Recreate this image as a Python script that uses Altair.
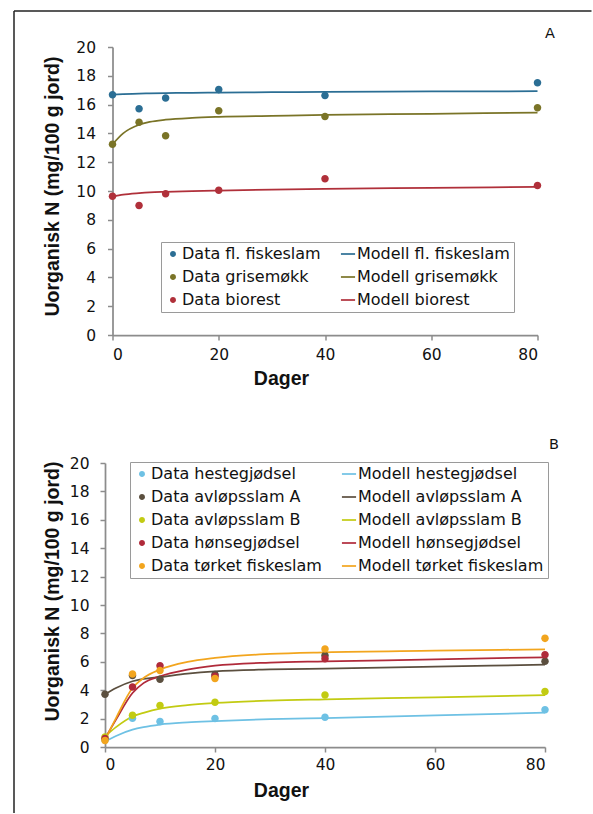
import altair as alt
import pandas as pd

# ---------------- data ----------------
days = [0, 5, 10, 20, 40, 80]
model_days = [0, 2, 5, 7, 10, 15, 20, 30, 40, 60, 80]

# Panel A
a_names = ["fl. fiskeslam", "grisemøkk", "biorest"]
a_colors = ["#2b6e94", "#7a7427", "#b0303a"]
a_fisk_data = [16.69, 15.72, 16.46, 17.04, 16.64, 17.52]
a_gris_data = [13.24, 14.77, 13.84, 15.58, 15.18, 15.78]
a_bio_data = [9.63, 9.0, 9.81, 10.05, 10.85, 10.39]
a_fisk_model = [16.70, 16.73, 16.76, 16.78, 16.80, 16.82, 16.83, 16.86, 16.88, 16.91, 16.93]
a_gris_model = [13.24, 14.00, 14.60, 14.80, 14.95, 15.08, 15.15, 15.22, 15.28, 15.36, 15.44]
a_bio_model = [9.63, 9.75, 9.85, 9.90, 9.94, 9.99, 10.03, 10.10, 10.15, 10.22, 10.28]

# Panel B
b_names = ["hestegjødsel", "avløpsslam A", "avløpsslam B", "hønsegjødsel", "tørket fiskeslam"]
b_colors = ["#6ec1e4", "#5b4f3f", "#c2cb12", "#b02a3a", "#f2a51e"]
b_heste_data = [0.50, 2.02, 1.79, 2.00, 2.09, 2.63]
b_avla_data = [3.71, 5.03, 4.77, 5.10, 6.44, 6.04]
b_avlb_data = [0.70, 2.23, 2.92, 3.15, 3.66, 3.90]
b_honse_data = [0.59, 4.23, 5.73, 4.98, 6.22, 6.50]
b_tork_data = [0.45, 5.14, 5.38, 4.82, 6.90, 7.65]
b_heste_model = [0.38, 0.78, 1.22, 1.40, 1.58, 1.73, 1.82, 1.96, 2.04, 2.22, 2.42]
b_avla_model = [3.71, 4.15, 4.63, 4.80, 4.93, 5.17, 5.33, 5.46, 5.52, 5.66, 5.80]
b_avlb_model = [0.75, 1.40, 2.15, 2.40, 2.70, 2.95, 3.10, 3.27, 3.36, 3.50, 3.66]
b_honse_model = [0.60, 1.93, 3.80, 4.50, 4.98, 5.45, 5.73, 5.95, 6.03, 6.17, 6.32]
b_tork_model = [0.50, 2.04, 4.15, 4.86, 5.45, 5.99, 6.27, 6.55, 6.67, 6.78, 6.88]

x_ticks = [0, 20, 40, 60, 80]
y_ticks = [0, 2, 4, 6, 8, 10, 12, 14, 16, 18, 20]
y_title = "Uorganisk N (mg/100 g jord)"
x_title = "Dager"

CIRCLE = "M0,-0.42A0.42,0.42,0,1,1,0,0.42A0.42,0.42,0,1,1,0,-0.42Z"
DASH = "M-1,-0.12L1,-0.12L1,0.12L-1,0.12Z"

LABEL_FONT = "DejaVu Sans"
TITLE_FONT = "Liberation Sans"


def panel(tag, names, colors, data_lists, model_lists, width, height, leg_x, leg_y,
          letter, letter_x, letter_y, ytx, yty, xtx, xty, ylp, xlp, frame=None):
    prow, lrow = [], []
    for n, vals in zip(names, data_lists):
        for d, v in zip(days, vals):
            prow.append({"day": d, "value": v, "series" + tag: "Data " + n})
    for n, vals in zip(names, model_lists):
        for d, v in zip(model_days, vals):
            lrow.append({"day": d, "value": v, "model" + tag: "Modell " + n})
    pts = pd.DataFrame(prow)
    lns = pd.DataFrame(lrow)

    # legend entries: first column = data, second column = models
    domain = ["Data " + n for n in names] + ["Modell " + n for n in names]
    crange = list(colors) + list(colors)
    shapes = [CIRCLE] * len(names) + [DASH] * len(names)

    leg = alt.Legend(orient="none", legendX=leg_x, legendY=leg_y, columns=2, title=None,
                     labelFont=LABEL_FONT, labelFontSize=16, labelColor="#111",
                     labelLimit=400, symbolSize=200, labelOffset=1,
                     rowPadding=7, columnPadding=16, padding=4,
                     strokeColor="#9a9a9a", fillColor="white")

    x = alt.X("day:Q", scale=alt.Scale(domain=[0, 80], nice=False),
              axis=alt.Axis(values=x_ticks, title=x_title, titleX=xtx, titleY=xty,
                            titleBaseline="alphabetic", titleAlign="center",
                            labelPadding=xlp))
    y = alt.Y("value:Q", scale=alt.Scale(domain=[0, 20], nice=False),
              axis=alt.Axis(values=y_ticks, title=y_title, titleX=ytx, titleY=yty,
                            titleAngle=270, titleBaseline="alphabetic", titleAlign="center",
                            labelPadding=ylp))

    lines = alt.Chart(lns).mark_line(interpolate="monotone", strokeWidth=1.75).encode(
        x=x, y=y,
        color=alt.Color("model" + tag + ":N",
                        scale=alt.Scale(domain=["Modell " + n for n in names], range=colors),
                        legend=None),
    )
    points = alt.Chart(pts).mark_point(filled=True, opacity=1, size=320).encode(
        x=x, y=y,
        fill=alt.Fill("series" + tag + ":N", scale=alt.Scale(domain=domain, range=crange), legend=leg),
        shape=alt.Shape("series" + tag + ":N", scale=alt.Scale(domain=domain, range=shapes), legend=leg),
    )
    one = pd.DataFrame({"k": [0]})
    letter_mark = alt.Chart(one).mark_text(text=letter, font=LABEL_FONT, fontSize=14.5,
                                           align="center", baseline="alphabetic",
                                           color="#111").encode(
        x=alt.value(letter_x), y=alt.value(letter_y))
    layers = [lines, points, letter_mark]
    if frame is not None:
        fx, fy, fx2, fy2 = frame
        left = alt.Chart(one).mark_rule(color="#222", strokeWidth=1.5, clip=False).encode(
            x=alt.value(fx), y=alt.value(fy), y2=alt.value(fy2))
        top = alt.Chart(one).mark_rule(color="#222", strokeWidth=1.5, clip=False).encode(
            x=alt.value(fx), x2=alt.value(fx2), y=alt.value(fy))
        layers += [left, top]
    return alt.layer(*layers).properties(width=width, height=height)


chart_a = panel("A", a_names, a_colors, [a_fisk_data, a_gris_data, a_bio_data],
                [a_fisk_model, a_gris_model, a_bio_model],
                425, 288, 48.5, 195, "A", 437.5, -9,
                -54.5, 139, 168.5, 49, 12, 7,
                frame=(-98.5, -36, 479, 766))
chart_b = panel("B", b_names, b_colors,
                [b_heste_data, b_avla_data, b_avlb_data, b_honse_data, b_tork_data],
                [b_heste_model, b_avla_model, b_avlb_model, b_honse_model, b_tork_model],
                440, 284, 25, -1, "B", 449, -14,
                -47, 128, 176, 49, 11, 5)

chart = alt.vconcat(chart_a, chart_b, spacing=128, bounds="flush", center=True).resolve_scale(
    fill="independent", color="independent", shape="independent"
).resolve_legend(
    fill="independent", color="independent", shape="independent"
).properties(
    padding={"left": 13, "top": 10, "right": 0, "bottom": 0},
    background="white",
).configure_view(stroke=None).configure_axis(
    grid=False,
    domainColor="#8c8c8c", domainWidth=1.75,
    tickColor="#8c8c8c", tickWidth=1.5, tickSize=5,
    labelFont=LABEL_FONT, labelFontSize=15.5, labelColor="#111",
    titleFont=TITLE_FONT, titleFontSize=19.5, titleFontWeight="bold", titleColor="#111",
)

chart.save("out.html", embed_options={"renderer": "svg", "actions": False})
